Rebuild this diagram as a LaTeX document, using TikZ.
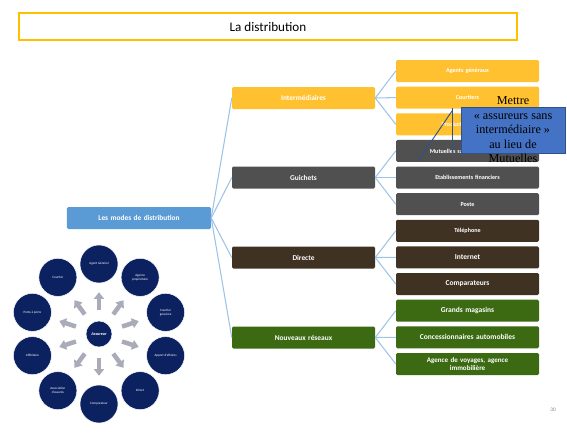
\documentclass[tikz,border=0pt]{standalone}
\usepackage{fontspec}
\setmainfont{Carlito}
\newfontfamily\calloutfont{Liberation Serif}
\usetikzlibrary{arrows.meta,positioning}

\definecolor{titleorange}{HTML}{FFC000}
\definecolor{boxorange}{HTML}{FFC12F}
\definecolor{boxgray}{HTML}{505050}
\definecolor{boxbrown}{HTML}{3F3223}
\definecolor{boxgreen}{HTML}{3B6A12}
\definecolor{rootblue}{HTML}{5B9BD5}
\definecolor{linkblue}{HTML}{9DC3E6}
\definecolor{ringnavy}{HTML}{0C2160}
\definecolor{spokegray}{HTML}{A9ABB8}
\definecolor{calloutblue}{HTML}{4472C4}
\definecolor{calloutedge}{HTML}{2F528F}

\tikzset{
  modebox/.style={rounded corners=1.2pt, minimum width=4.29cm, minimum height=.66cm,
    inner sep=1pt, text=white, align=center, text width=4.1cm,
    font=\bfseries\fontsize{6.3}{7}\selectfont},
  subbox/.style={modebox, font=\bfseries\fontsize{5.2}{6}\selectfont},
  bigsub/.style={modebox, font=\bfseries\fontsize{6.4}{7}\selectfont},
  link/.style={linkblue, line width=.9pt},
  ringnode/.style={circle, fill=ringnavy, draw=white, line width=.4pt, minimum size=1.14cm,
    inner sep=0pt, text=white, align=center, font=\fontsize{2.8}{3.2}\selectfont},
  spoke/.style={spokegray, line width=.135cm, -{Triangle[width=.3cm,length=.2cm]},
    shorten <=.33cm, shorten >=.27cm}
}

\begin{document}
\begin{tikzpicture}[x=.03cm, y=-.03cm]
  \useasboundingbox (0,0) rectangle (567,442);

  % title
  \node[draw=titleorange, line width=1.6pt, fill=white, minimum width=14.94cm, minimum height=.81cm,
    font=\fontsize{11.2}{13}\selectfont] (title) at (268,26.5) {La distribution};

  % root and first level
  \node[modebox, fill=rootblue, minimum width=4.32cm] (root) at (139,218) {Les modes de distribution};
  \node[modebox, fill=boxorange] (inter) at (303.5,98) {Intermédiaires};
  \node[modebox, fill=boxgray] (guichets) at (303.5,177.5) {Guichets};
  \node[modebox, fill=boxbrown] (directe) at (303.5,257.5) {Directe};
  \node[modebox, fill=boxgreen] (reseaux) at (303.5,337.5) {Nouveaux réseaux};

  % second level
  \node[subbox, fill=boxorange] (agents) at (467.5,71) {Agents généraux};
  \node[subbox, fill=boxorange] (courtiers) at (467.5,97.6) {Courtiers};
  \node[subbox, fill=boxorange] (producteurs) at (467.5,124.3) {Producteurs salariés};
  \node[subbox, fill=boxgray] (mutuelles) at (467.5,150.9) {Mutuelles sans intermédiaire};
  \node[subbox, fill=boxgray] (etab) at (467.5,177.5) {Etablissements financiers};
  \node[subbox, fill=boxgray] (poste) at (467.5,204.2) {Poste};
  \node[subbox, fill=boxbrown] (tel) at (467.5,230.8) {Téléphone};
  \node[bigsub, fill=boxbrown] (internet) at (467.5,257.4) {Internet};
  \node[bigsub, fill=boxbrown] (compar) at (467.5,284) {Comparateurs};
  \node[bigsub, fill=boxgreen] (magasins) at (467.5,310.7) {Grands magasins};
  \node[bigsub, fill=boxgreen] (concess) at (467.5,337.3) {Concessionnaires automobiles};
  \node[bigsub, fill=boxgreen, font=\bfseries\fontsize{6}{6.4}\selectfont] (agence) at (467.5,364)
    {Agence de voyages, agence\\immobilière};

  % links
  \foreach \m in {inter,guichets,directe,reseaux}
    \draw[link] (root.east) -- (\m.west);
  \foreach \a/\b in {inter/agents,inter/courtiers,inter/producteurs,
                     guichets/mutuelles,guichets/etab,guichets/poste,
                     directe/tel,directe/internet,directe/compar,
                     reseaux/magasins,reseaux/concess,reseaux/agence}
    \draw[link] (\a.east) -- (\b.west);

  % callout
  \coordinate (bartop) at (452,108);
  \coordinate (barbot) at (452,153);
  \coordinate (leadtop) at (452,111);
  \coordinate (leadend) at (418,161);
  \draw[calloutedge, line width=.8pt] (bartop) -- (barbot);
  \draw[calloutedge, line width=.8pt] (leadtop) -- (leadend);
  \node[fill=calloutblue, draw=calloutedge, line width=.8pt, minimum width=3.12cm,
    minimum height=1.38cm, inner sep=0pt] (callout) at (513,130) {};
  \node[align=center, inner sep=0pt, font=\calloutfont\fontsize{10.4}{12.4}\selectfont] (callouttext)
    at (callout.center) {Mettre\\« assureurs sans\\intermédiaire »\\au lieu de\\Mutuelles};

  % actors around the insurer
  \node[ringnode, minimum size=.78cm, font=\bfseries\itshape\fontsize{3.6}{4}\selectfont] (c) at (99,334) {Assureur};
  \foreach \ang/\lab [count=\i] in {-90/{Agent Général}, -54/{Agence\\propriétaire},
      -18/{Courtier\\grossiste}, 18/{Apport d'affaires}, 54/{Direct}, 90/{Comparateur},
      126/{Association\\d'assurés}, 162/{Affinitaire}, 198/{Porte à porte}, 234/{Courtier}} {
    \node[ringnode] (r\i) at ([shift={(\ang:70)}]c) {\lab};
    \draw[spoke] (c) -- (r\i);
  }

  % page number
  \node[text=gray, font=\fontsize{4.5}{5}\selectfont] (page) at (553,410) {30};
\end{tikzpicture}
\end{document}
